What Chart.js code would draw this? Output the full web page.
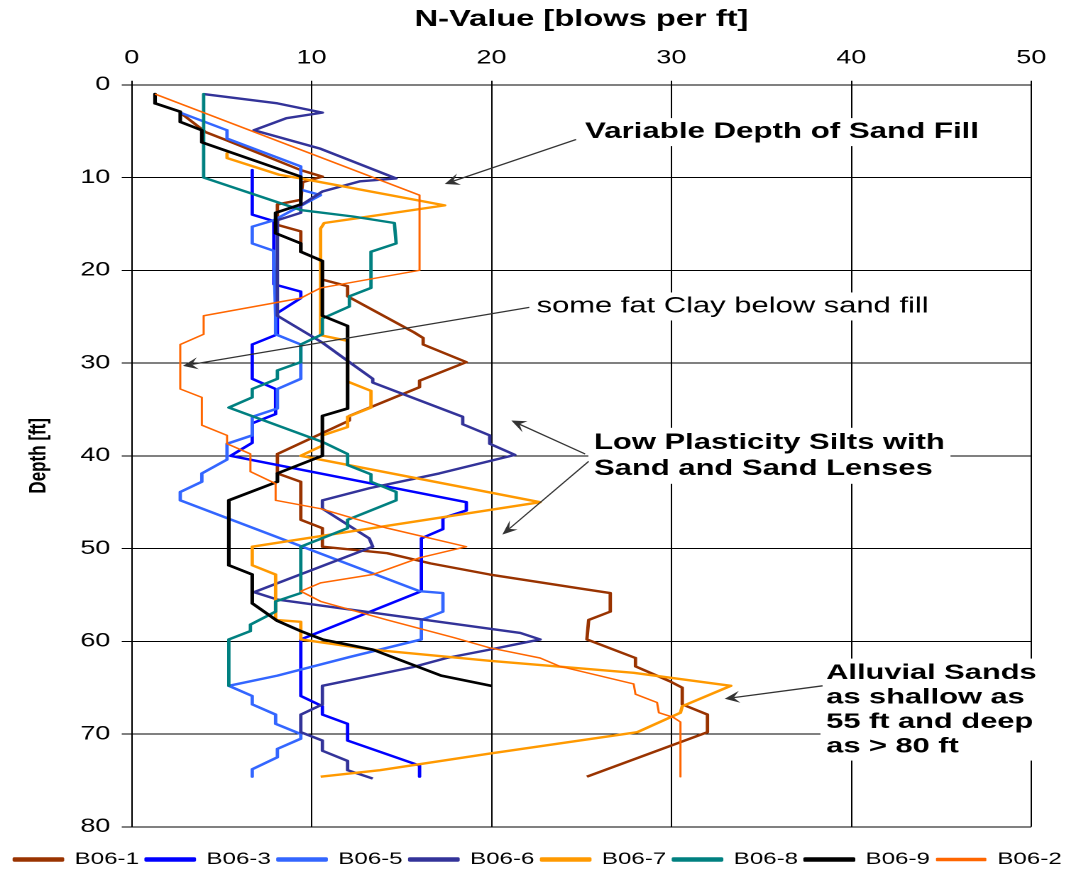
<!DOCTYPE html>
<html>
<head>
<meta charset="utf-8">
<title>N-Value vs Depth</title>
<script src="https://cdn.jsdelivr.net/npm/chart.js"></script>
<style>
  html, body { margin: 0; padding: 0; background: #fff; overflow: hidden; }
  /* the source picture is stretched sideways, so the canvas is too */
  #wrap { position: absolute; left: 0; top: 0; width: 758px; height: 878px;
          transform: scaleX(1.41953); transform-origin: 0 0; }
</style>
</head>
<body>
<div id="wrap"><canvas id="myChart" width="758" height="878"></canvas></div>
<script>
// N-value (blows per ft) and depth (ft) for every boring
const nB061 = [2.7, 4.1, 5.3, 9.4, 10.6, 9.5, 9.4, 8.1, 8.1, 9.4, 9.4, 10.6, 10.6, 12.0, 12.0, 15.7, 16.2, 16.2, 18.6, 16.0, 16.0, 12.1, 12.1, 8.1, 8.1, 9.4, 9.4, 10.6, 10.6, 14.2, 16.6, 19.9, 24.9, 26.6, 26.6, 25.4, 25.3, 28.0, 28.0, 29.9, 30.6, 30.6, 32.0, 32.0, 25.3];
const dB061 = [3.0, 5.1, 6.0, 9.2, 9.9, 10.5, 12.4, 12.9, 15.1, 15.8, 18.0, 19.0, 21.0, 21.7, 22.8, 26.7, 27.3, 28.0, 29.9, 31.9, 32.6, 35.7, 36.2, 39.8, 41.9, 42.8, 46.9, 47.8, 49.8, 50.5, 51.6, 52.8, 54.3, 54.8, 56.8, 57.7, 59.8, 61.8, 62.7, 64.3, 65.0, 66.8, 67.9, 69.8, 74.6];

const nB063 = [6.7, 6.7, 7.9, 7.9, 9.4, 9.4, 8.1, 8.1, 6.7, 6.7, 8.0, 8.0, 6.7, 6.7, 5.5, 18.6, 18.6, 17.3, 17.3, 16.1, 16.1, 9.4, 9.4, 10.6, 10.6, 12.0, 12.0, 16.0, 16.0];
const dB063 = [9.2, 14.0, 14.7, 21.5, 22.3, 23.0, 24.6, 26.9, 28.0, 31.7, 32.8, 35.5, 36.5, 38.6, 40.0, 45.0, 45.9, 46.7, 47.9, 48.9, 54.6, 59.8, 65.9, 67.0, 67.9, 68.9, 70.7, 73.4, 74.6];

const nB065 = [2.7, 5.3, 5.3, 9.4, 9.4, 10.5, 7.9, 6.7, 6.7, 7.9, 8.0, 8.0, 9.4, 9.4, 8.1, 8.1, 6.7, 6.7, 5.3, 5.3, 3.9, 3.9, 2.7, 2.7, 16.0, 17.3, 17.3, 16.1, 16.1, 12.1, 8.1, 5.4, 6.7, 6.7, 8.0, 8.0, 9.4, 9.4, 8.1, 8.1, 6.7, 6.7];
const dB065 = [3.0, 4.9, 5.8, 8.8, 11.3, 11.9, 14.6, 15.3, 17.1, 17.9, 24.9, 26.9, 28.0, 31.7, 32.8, 34.9, 35.8, 37.8, 38.7, 40.4, 41.9, 42.8, 43.9, 44.8, 54.6, 54.8, 56.8, 57.7, 59.8, 61.7, 63.7, 64.8, 65.9, 66.8, 67.9, 68.9, 70.0, 70.5, 71.6, 72.5, 73.8, 74.6];

const nB066 = [4.0, 8.1, 10.6, 8.6, 6.8, 10.5, 14.7, 12.7, 10.6, 9.4, 9.4, 8.1, 8.1, 10.6, 12.1, 13.4, 13.4, 18.4, 18.4, 19.9, 19.9, 21.3, 17.1, 13.2, 10.6, 10.6, 13.2, 13.4, 6.8, 8.1, 21.6, 22.7, 19.9, 17.5, 15.6, 10.6, 10.6, 9.4, 9.4, 10.6, 10.6, 12.0, 12.0, 13.4];
const dB066 = [1.0, 2.0, 3.0, 3.6, 4.9, 6.9, 10.1, 10.4, 11.5, 13.0, 13.8, 14.6, 24.9, 27.8, 29.9, 31.7, 32.1, 35.8, 36.6, 37.8, 38.7, 39.9, 41.9, 43.5, 44.8, 45.7, 48.9, 49.8, 54.7, 55.5, 59.1, 59.8, 60.9, 61.8, 62.8, 64.8, 66.8, 67.9, 69.8, 70.7, 71.8, 72.9, 73.9, 74.8];

const nB067 = [5.3, 5.3, 8.2, 9.4, 17.4, 12.5, 10.7, 10.5, 10.5, 12.0, 12.0, 13.3, 13.3, 12.0, 12.0, 10.6, 10.6, 9.4, 22.7, 6.7, 6.7, 8.0, 8.0, 9.4, 9.4, 13.4, 19.9, 27.9, 33.3, 30.6, 30.5, 28.1, 19.9, 13.8, 10.5];
const dB067 = [7.4, 7.9, 9.7, 10.1, 13.0, 14.4, 14.9, 15.5, 27.0, 27.6, 32.0, 33.0, 34.8, 35.8, 36.9, 37.8, 38.9, 40.0, 45.0, 49.8, 51.8, 52.8, 57.7, 57.9, 59.8, 60.9, 62.1, 63.4, 64.8, 67.0, 67.7, 69.8, 72.1, 73.9, 74.6];

const nB068 = [4.0, 4.0, 9.4, 12.3, 14.6, 14.7, 13.3, 13.3, 12.1, 12.1, 10.6, 10.6, 9.4, 9.4, 8.1, 8.1, 6.7, 6.7, 5.4, 10.6, 12.0, 12.0, 13.3, 13.3, 14.7, 14.7, 12.0, 12.0, 9.4, 9.4, 8.0, 8.0, 6.6, 6.6, 5.4, 5.4];
const dB068 = [1.0, 10.0, 13.5, 14.2, 14.9, 17.1, 18.0, 21.9, 22.8, 23.9, 25.2, 26.9, 28.0, 29.9, 30.8, 31.7, 32.8, 33.7, 34.8, 38.5, 39.8, 41.0, 42.0, 42.8, 43.9, 44.8, 46.9, 47.8, 49.8, 54.8, 55.7, 56.8, 58.2, 58.9, 59.8, 64.8];

const nB069 = [1.3, 1.3, 2.7, 2.7, 3.9, 3.9, 9.4, 9.4, 8.0, 8.0, 9.4, 9.4, 10.6, 10.6, 12.0, 12.0, 10.6, 10.6, 8.1, 8.1, 5.4, 5.4, 6.7, 6.7, 8.1, 9.4, 10.6, 13.4, 17.2, 20.0];
const dB069 = [1.0, 2.0, 2.9, 4.0, 4.9, 6.2, 9.9, 12.9, 13.8, 16.0, 17.1, 18.0, 19.0, 24.9, 26.0, 34.9, 35.7, 40.0, 41.9, 42.8, 44.8, 51.8, 52.8, 55.9, 57.8, 58.9, 59.8, 60.9, 63.7, 64.8];

const nB062 = [1.3, 16.0, 16.0, 10.5, 9.4, 4.0, 4.0, 2.7, 2.7, 3.9, 3.9, 5.3, 5.3, 6.6, 6.6, 8.0, 8.0, 10.5, 14.2, 18.6, 16.0, 13.4, 10.5, 9.4, 10.5, 14.2, 17.9, 19.9, 22.7, 23.8, 27.9, 28.0, 29.2, 29.3, 30.1, 30.5, 30.5];
const dB062 = [1.0, 11.9, 20.0, 21.9, 23.0, 24.9, 26.9, 28.0, 32.8, 33.7, 36.7, 37.8, 38.7, 39.8, 41.7, 43.0, 44.8, 45.7, 47.8, 49.8, 51.0, 52.8, 53.7, 54.6, 55.7, 57.7, 59.6, 60.7, 61.8, 62.7, 64.6, 65.7, 66.6, 67.7, 68.2, 68.7, 74.6];

const borings = ['B06-1', 'B06-3', 'B06-5', 'B06-6', 'B06-7', 'B06-8', 'B06-9', 'B06-2'];
const nValues = [nB061, nB063, nB065, nB066, nB067, nB068, nB069, nB062];
const depths = [dB061, dB063, dB065, dB066, dB067, dB068, dB069, dB062];

const xTicks = [0, 10, 20, 30, 40, 50];
const yTicks = [0, 10, 20, 30, 40, 50, 60, 70, 80];

// callout texts
const noteSand = ['Variable Depth of Sand Fill'];
const noteClay = ['some fat Clay below sand fill'];
const noteSilt = ['Low Plasticity Silts with', 'Sand and Sand Lenses'];
const noteAlluvial = ['Alluvial Sands', 'as shallow as', '55 ft and deep', 'as > 80 ft'];

const colors = ['#993300', '#0000FF', '#3366FF', '#333399', '#FF9900', '#008080', '#000000', '#FF6600'];
const widths = [2.4, 2.4, 2.4, 2.4, 2.4, 2.4, 2.6, 1.5];
const FONT = '"Liberation Sans", Arial, sans-serif';
const S = 1076 / 758;   // sideways stretch of the page

const datasets = borings.map((name, i) => ({
  label: name,
  data: nValues[i].map((n, k) => ({ x: n, y: depths[i][k] })),
  borderColor: colors[i],
  backgroundColor: colors[i],
  borderWidth: widths[i],
  showLine: true,
  pointRadius: 0,
  pointHoverRadius: 0,
  tension: 0,
  borderJoinStyle: 'round',
  order: borings.length - i   // later borings drawn on top, like the original
}));

// where the callouts sit, in chart values
const notes = [
  { lines: noteSand, bold: true, size: 22, lh: 24, at: [25.2, 5.1] },
  { lines: noteClay, bold: false, size: 21.8, lh: 24, at: [22.5, 23.9] },
  { lines: noteSilt, bold: true, size: 21.8, lh: 26, at: [25.7, 38.6] },
  { lines: noteAlluvial, bold: true, size: 21.7, lh: 24.5, at: [38.6, 63.4] }
];
const arrows = [
  { from: [24.7, 5.9], to: [17.4, 10.7] },
  { from: [22.1, 24.0], to: [2.85, 30.3] },
  { from: [25.2, 39.8], to: [21.1, 36.2] },
  { from: [25.4, 40.6], to: [20.6, 48.5] },
  { from: [38.4, 64.8], to: [32.96, 66.2] }
];

function drawArrow(ctx, x1, y1, x2, y2) {
  const a = Math.atan2(y2 - y1, x2 - x1);
  const c = Math.cos(a), s = Math.sin(a);
  const len = 15, half = 6, notch = 9;
  ctx.beginPath();
  ctx.moveTo(x1, y1);
  ctx.lineTo(x2 - c * notch, y2 - s * notch);
  ctx.stroke();
  ctx.beginPath();
  ctx.moveTo(x2, y2);
  ctx.lineTo(x2 - c * len + s * half, y2 - s * len - c * half);
  ctx.lineTo(x2 - c * notch, y2 - s * notch);
  ctx.lineTo(x2 - c * len - s * half, y2 - s * len + c * half);
  ctx.closePath();
  ctx.fill();
}

const calloutPlugin = {
  id: 'callouts',
  afterDatasetsDraw(chart) {
    const { ctx, scales: { x, y } } = chart;
    ctx.save();
    ctx.textBaseline = 'middle';
    ctx.textAlign = 'left';
    notes.forEach(n => {
      ctx.font = (n.bold ? 'bold ' : '') + n.size + 'px ' + FONT;
      const px = x.getPixelForValue(n.at[0]);
      const py = y.getPixelForValue(n.at[1]);
      const w = Math.max(...n.lines.map(t => ctx.measureText(t).width));
      ctx.fillStyle = '#ffffff';
      ctx.fillRect(px - 4, py - n.lh / 2 - 2, w + 8, n.lines.length * n.lh + 4);
      ctx.fillStyle = '#000000';
      n.lines.forEach((t, i) => ctx.fillText(t, px, py + i * n.lh));
    });
    // arrows are drawn in page pixels so the heads are not stretched
    ctx.scale(1 / S, 1);
    ctx.strokeStyle = '#333333';
    ctx.fillStyle = '#333333';
    ctx.lineWidth = 1.3;
    arrows.forEach(a => {
      drawArrow(ctx,
        x.getPixelForValue(a.from[0]) * S, y.getPixelForValue(a.from[1]),
        x.getPixelForValue(a.to[0]) * S, y.getPixelForValue(a.to[1]));
    });
    ctx.restore();
  }
};

const ctx = document.getElementById('myChart');

new Chart(ctx, {
  type: 'scatter',
  data: { datasets: datasets },
  plugins: [calloutPlugin],
  options: {
    responsive: false,
    devicePixelRatio: 2,
    animation: false,
    layout: { padding: 0 },
    scales: {
      x: {
        type: 'linear',
        position: 'top',
        min: 0,
        max: 50,
        afterBuildTicks: (s) => { s.ticks = xTicks.map(v => ({ value: v })); },
        afterFit: (s) => { s.height = 84.8; },
        ticks: { color: '#000', padding: 11, font: { size: 19, family: FONT } },
        grid: { color: '#000', lineWidth: 1, tickLength: 4 },
        border: { color: '#000', width: 1 },
        title: {
          display: true,
          text: 'N-Value [blows per ft]',
          color: '#000',
          font: { size: 23, weight: 'bold', family: FONT },
          padding: { top: 6, bottom: 0 }
        }
      },
      y: {
        type: 'linear',
        position: 'left',
        reverse: true,
        min: 0,
        max: 80,
        afterBuildTicks: (s) => { s.ticks = yTicks.map(v => ({ value: v })); },
        afterFit: (s) => { s.width = 92.75; },
        ticks: { color: '#000', padding: 8, font: { size: 19, family: FONT } },
        grid: { color: '#000', lineWidth: 1, tickLength: 7 },
        border: { color: '#000', width: 1 },
        title: {
          display: true,
          text: 'Depth [ft]',
          color: '#000',
          font: { size: 17, weight: 'bold', family: FONT },
          padding: { top: 17, bottom: 0 }
        }
      },
      // empty strip on the right, keeps the plot clear of the page edge
      yRight: {
        type: 'linear',
        position: 'right',
        display: true,
        afterFit: (s) => { s.width = 31.5; },
        ticks: { display: false },
        grid: { display: false },
        border: { display: false }
      }
    },
    plugins: {
      tooltip: { enabled: false },
      legend: {
        position: 'bottom',
        title: { display: true, text: '', padding: 0, font: { size: 16 } },
        labels: {
          boxWidth: 34,
          boxHeight: 2,
          padding: 5,
          color: '#000',
          font: { size: 17, family: FONT },
          sort: (a, b) => a.datasetIndex - b.datasetIndex
        }
      }
    }
  }
});
</script>
</body>
</html>
